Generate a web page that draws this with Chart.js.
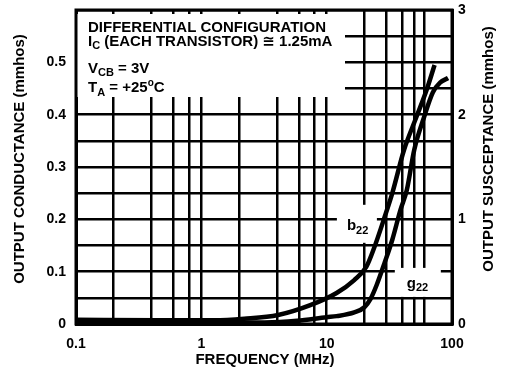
<!DOCTYPE html>
<html>
<head>
<meta charset="utf-8">
<script src="https://cdn.jsdelivr.net/npm/chart.js@4.4.0/dist/chart.umd.min.js"></script>
<style>
html, body { margin: 0; padding: 0; background: #fff; }
</style>
</head>
<body>
<canvas id="chart" width="505" height="372"></canvas>
<script>
// frequency in MHz, values in mmhos
const b22Freq = [0.1, 0.45, 1.27, 2.2, 4.1, 7.4, 12, 16.6, 20.7, 23.9, 29, 33.4, 41.4, 52, 62.7, 72.6];
const b22Values = [0.04, 0.035, 0.035, 0.05, 0.086, 0.18, 0.296, 0.42, 0.545, 0.726, 1.022, 1.251, 1.662, 1.977, 2.235, 2.474];
const g22Freq = [0.1, 1.27, 3.2, 5.8, 10, 12, 16.6, 20, 22.4, 25.1, 29, 33.4, 38.8, 43.6, 50, 60, 70.4, 80.3, 93];
const g22Values = [0.004, 0.003, 0.003, 0.006, 0.013, 0.015, 0.022, 0.032, 0.048, 0.075, 0.117, 0.161, 0.218, 0.256, 0.333, 0.396, 0.443, 0.461, 0.47];

// axis ticks
const freqGrid = [0.1, 0.2, 0.4, 0.6, 0.8, 1, 2, 4, 6, 8, 10, 20, 30, 40, 50, 60, 100];
const freqLabels = [0.1, 1, 10, 100];
const gGrid = [0, 0.05, 0.1, 0.15, 0.2, 0.25, 0.3, 0.35, 0.4, 0.45, 0.5, 0.55, 0.6];
const gLabels = [0, 0.1, 0.2, 0.3, 0.4, 0.5];
const bLabels = [0, 1, 2, 3];

// where the curve names sit (MHz, conductance scale)
const b22LabelAt = [14.5, 0.18];
const g22LabelAt = [43.6, 0.069];

const FAMILY = "'Liberation Sans', Arial, 'DejaVu Sans', sans-serif";
const tickFont = { family: FAMILY, size: 14, weight: "bold" };

function fnt(size) {
    return "bold " + size + "px " + FAMILY;
}

// draw text made of pieces: [text, size, baseline shift]
function drawRuns(ctx, x, y, runs) {
    ctx.textBaseline = "alphabetic";
    ctx.textAlign = "left";
    runs.forEach(function (r) {
        ctx.font = fnt(r[1]);
        ctx.fillText(r[0], x, y + r[2]);
        x += ctx.measureText(r[0]).width;
    });
}

const overlay = {
    id: "overlay",
    beforeDatasetsDraw(chart) {
        const { ctx, chartArea: a, scales } = chart;
        ctx.save();
        ctx.fillStyle = "#fff";
        // blank area behind the conditions text
        ctx.fillRect(a.left, a.top + 4, 345 - a.left, 97 - a.top - 4);
        // gaps behind the curve names
        var bx = scales.x.getPixelForValue(b22LabelAt[0]);
        var by = scales.y.getPixelForValue(b22LabelAt[1]);
        ctx.fillRect(bx - 10, by - 25, 40, 38);
        var gx = scales.x.getPixelForValue(g22LabelAt[0]);
        var gy = scales.y.getPixelForValue(g22LabelAt[1]);
        ctx.fillRect(gx - 12, gy - 20, 46, 29);
        ctx.restore();
    },
    afterDraw(chart) {
        const { ctx, chartArea: a, scales } = chart;
        ctx.save();
        ctx.strokeStyle = "#000";
        ctx.lineWidth = 3;
        ctx.strokeRect(a.left, a.top, a.right - a.left, a.bottom - a.top);

        ctx.fillStyle = "#000";
        drawRuns(ctx, 88, 32, [["DIFFERENTIAL CONFIGURATION", 15, 0]]);
        drawRuns(ctx, 88, 46, [["I", 15, 0], ["C", 11, 3], [" (EACH TRANSISTOR) \u2245 1.25mA", 15, 0]]);
        drawRuns(ctx, 88, 73, [["V", 15, 0], ["CB", 11, 3], [" = 3V", 15, 0]]);
        drawRuns(ctx, 88, 92, [["T", 15, 0], ["A", 11, 4], [" = +25", 15, 0], ["o", 10, -6], ["C", 15, 0]]);

        var bx = scales.x.getPixelForValue(b22LabelAt[0]);
        var by = scales.y.getPixelForValue(b22LabelAt[1]);
        drawRuns(ctx, bx, by, [["b", 15, 0], ["22", 11, 4]]);
        var gx = scales.x.getPixelForValue(g22LabelAt[0]);
        var gy = scales.y.getPixelForValue(g22LabelAt[1]);
        drawRuns(ctx, gx, gy, [["g", 15, 0], ["22", 11, 3]]);

        // axis titles
        ctx.font = fnt(15);
        ctx.textAlign = "center";
        ctx.textBaseline = "middle";
        ctx.fillText("FREQUENCY (MHz)", 265, 360);

        ctx.save();
        ctx.translate(20, 159);
        ctx.rotate(-Math.PI / 2);
        ctx.fillText("OUTPUT CONDUCTANCE (mmhos)", 0, 0);
        ctx.restore();

        ctx.save();
        ctx.translate(489, 149);
        ctx.rotate(-Math.PI / 2);
        ctx.fillText("OUTPUT SUSCEPTANCE (mmhos)", 0, 0);
        ctx.restore();

        ctx.restore();
    },
};

var ctx = document.getElementById("chart");
var chart = new Chart(ctx, {
    type: "line",
    data: {
        datasets: [
            {
                label: "b22",
                data: b22Freq.map(function (f, i) { return { x: f, y: b22Values[i] }; }),
                yAxisID: "y1",
                borderColor: "#000",
                borderWidth: 4.5,
                pointRadius: 0,
                cubicInterpolationMode: "monotone",
                fill: false,
            },
            {
                label: "g22",
                data: g22Freq.map(function (f, i) { return { x: f, y: g22Values[i] }; }),
                yAxisID: "y",
                borderColor: "#000",
                borderWidth: 4.5,
                pointRadius: 0,
                cubicInterpolationMode: "monotone",
                fill: false,
            },
        ],
    },
    options: {
        responsive: false,
        animation: false,
        devicePixelRatio: 1,
        layout: { padding: { top: 10, left: 0, right: 0, bottom: 0 } },
        scales: {
            x: {
                type: "logarithmic",
                position: "bottom",
                min: 0.1,
                max: 100,
                afterBuildTicks: function (s) {
                    s.ticks = freqGrid.map(function (v) { return { value: v }; });
                },
                afterFit: function (s) { s.height = 48; },
                ticks: {
                    autoSkip: false,
                    maxRotation: 0,
                    padding: 0,
                    color: "#000",
                    font: tickFont,
                    callback: function (v) {
                        return freqLabels.includes(v) ? String(v) : "";
                    },
                },
                grid: { color: "#000", lineWidth: 2.5, drawTicks: true, tickLength: 12, tickColor: "rgba(0,0,0,0)" },
                border: { color: "#000", width: 3 },
            },
            y: {
                position: "left",
                min: 0,
                max: 0.6,
                afterBuildTicks: function (s) {
                    s.ticks = gGrid.map(function (v) { return { value: v }; });
                },
                afterFit: function (s) { s.width = 76; },
                ticks: {
                    autoSkip: false,
                    padding: 0,
                    color: "#000",
                    font: tickFont,
                    callback: function (v) {
                        return gLabels.includes(v) ? String(v) : "";
                    },
                },
                grid: { color: "#000", lineWidth: 2.5, drawTicks: true, tickLength: 10, tickColor: "rgba(0,0,0,0)" },
                border: { color: "#000", width: 3 },
            },
            y1: {
                position: "right",
                min: 0,
                max: 3,
                afterBuildTicks: function (s) {
                    s.ticks = bLabels.map(function (v) { return { value: v }; });
                },
                afterFit: function (s) { s.width = 53; },
                ticks: {
                    autoSkip: false,
                    padding: 0,
                    color: "#000",
                    font: tickFont,
                },
                grid: { drawOnChartArea: false, drawTicks: true, tickLength: 6, tickColor: "rgba(0,0,0,0)" },
                border: { color: "#000", width: 3 },
            },
        },
        plugins: {
            legend: { display: false },
            tooltip: { enabled: false },
        },
    },
    plugins: [overlay],
});
</script>
</body>
</html>
